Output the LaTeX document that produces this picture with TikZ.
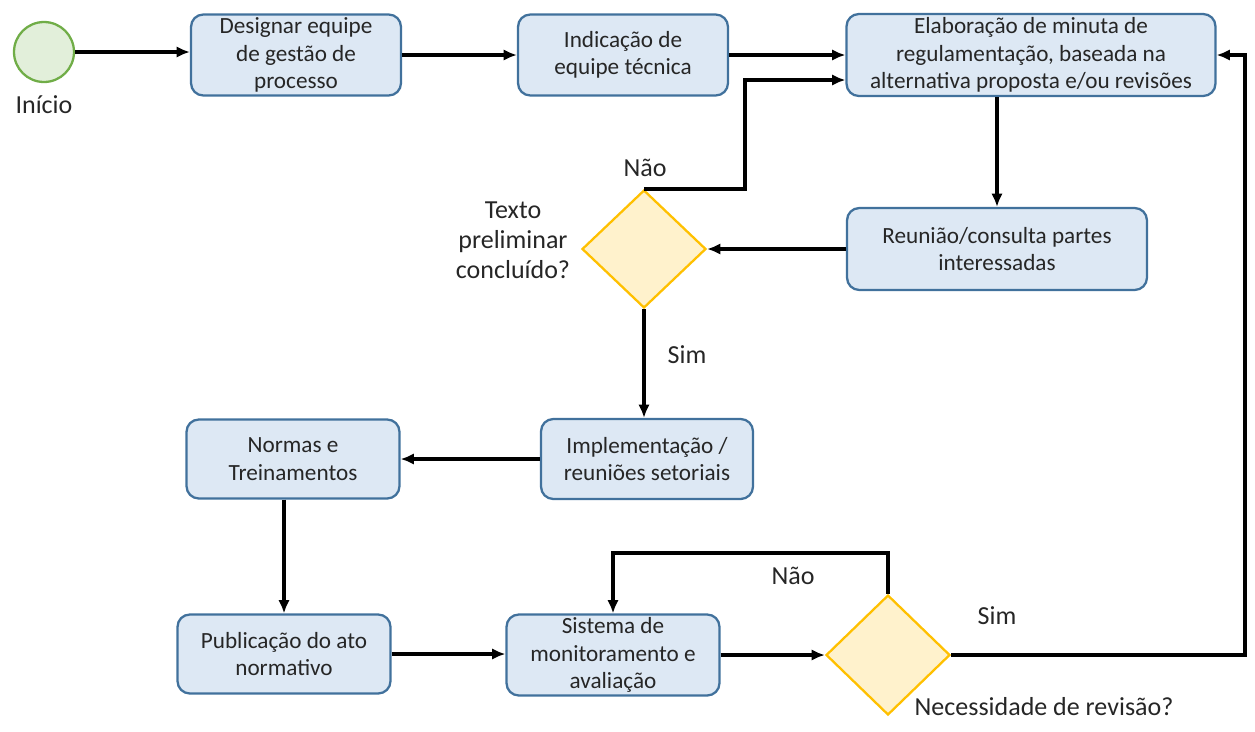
\documentclass[tikz,border=0pt]{standalone}
\usepackage{fontspec}
\setmainfont{Carlito}
\usetikzlibrary{shapes.geometric,arrows.meta}

\definecolor{etapafundo}{HTML}{DDE8F4}
\definecolor{etapaborda}{HTML}{41719C}
\definecolor{decisaofundo}{HTML}{FFF2CC}
\definecolor{decisaoborda}{HTML}{FFC000}
\definecolor{iniciofundo}{HTML}{E2EFDA}
\definecolor{inicioborda}{HTML}{70AD47}

\tikzset{
  etapa/.style={draw=etapaborda, fill=etapafundo, line width=1.3pt, rounded corners=7pt,
    align=center, inner sep=0pt, text=black!85, font=\fontsize{13.2}{15.6}\selectfont},
  decisao/.style={diamond, draw=decisaoborda, fill=decisaofundo, line width=1.3pt,
    inner sep=0pt, minimum width=2.48cm},
  fluxo/.style={-{Latex[length=7.5pt,width=6.5pt]}, line width=1.9pt},
  rotulo/.style={align=center, text=black!85, font=\fontsize{14.8}{17.2}\selectfont}
}

\begin{document}
\begin{tikzpicture}[x=0.02cm, y=-0.02cm]
  \useasboundingbox (0,0) rectangle (1255,731);

% Start
  \node[circle, draw=inicioborda, fill=iniciofundo, line width=1.3pt, minimum size=1.2cm, inner sep=0pt] (inicio) at (44,52) {};
  \node[rotulo] (inicioTxt) at (44,105) {Início};

% Steps
  \node[etapa, minimum width=4.2cm, minimum height=1.62cm] (designar) at (296,55) {Designar equipe\\de gestão de\\processo};
  \node[etapa, minimum width=4.2cm, minimum height=1.62cm] (indicacao) at (623,55) {Indicação de\\equipe técnica};
  \node[etapa, minimum width=7.38cm, minimum height=1.64cm] (elaboracao) at (1031,55) {Elaboração de minuta de\\regulamentação, baseada na\\alternativa proposta e/ou revisões};
  \node[etapa, minimum width=6cm, minimum height=1.64cm] (reuniao) at (997,249) {Reunião/consulta partes\\interessadas};
  \node[etapa, minimum width=4.24cm, minimum height=1.6cm] (implementacao) at (647,459) {Implementação /\\reuniões setoriais};
  \node[etapa, minimum width=4.26cm, minimum height=1.58cm] (normas) at (293,459) {Normas e\\Treinamentos};
  \node[etapa, minimum width=4.26cm, minimum height=1.58cm] (publicacao) at (284,654) {Publicação do ato\\normativo};
  \node[etapa, minimum width=4.26cm, minimum height=1.62cm] (sistema) at (613,655) {Sistema de\\monitoramento e\\avaliação};

% Decisions
  \node[decisao, minimum height=2.36cm] (texto) at (644,249) {};
  \node[decisao, minimum height=2.4cm] (revisao) at (888,655) {};

% Labels
  \node[rotulo] (textoTxt) at (513,240) {Texto\\preliminar\\concluído?};
  \node[rotulo] (naoTexto) at (645,168) {Não};
  \node[rotulo] (simTexto) at (687,355) {Sim};
  \node[rotulo] (naoRevisao) at (793,576) {Não};
  \node[rotulo] (simRevisao) at (997,616) {Sim};
  \node[rotulo] (revisaoTxt) at (1044,707) {Necessidade de revisão?};

% Bends
  \coordinate (dobra) at (745,80);
  \coordinate (laco) at (888,553);
  \coordinate (retorno) at (1245,655);

% Connectors
  \draw[fluxo] (inicio) -- (designar.west |- inicio);
  \draw[fluxo] (designar) -- (indicacao);
  \draw[fluxo] (indicacao) -- (elaboracao.west |- indicacao);
  \draw[fluxo] (texto.north) -| (dobra) -- (dobra -| elaboracao.west);
  \draw[fluxo] (reuniao.north |- elaboracao.south) -- (reuniao.north);
  \draw[fluxo] (reuniao) -- (texto);
  \draw[fluxo] (texto.south) -- (texto.south |- implementacao.north);
  \draw[fluxo] (implementacao) -- (normas);
  \draw[fluxo] (normas.south -| publicacao) -- (publicacao.north);
  \draw[fluxo] (publicacao) -- (sistema.west |- publicacao);
  \draw[fluxo] (sistema) -- (revisao);
  \draw[fluxo] (revisao.north) -- (laco) -| (sistema.north);
  \draw[fluxo] (revisao.east) -- (retorno) |- (elaboracao.east);

\end{tikzpicture}
\end{document}
